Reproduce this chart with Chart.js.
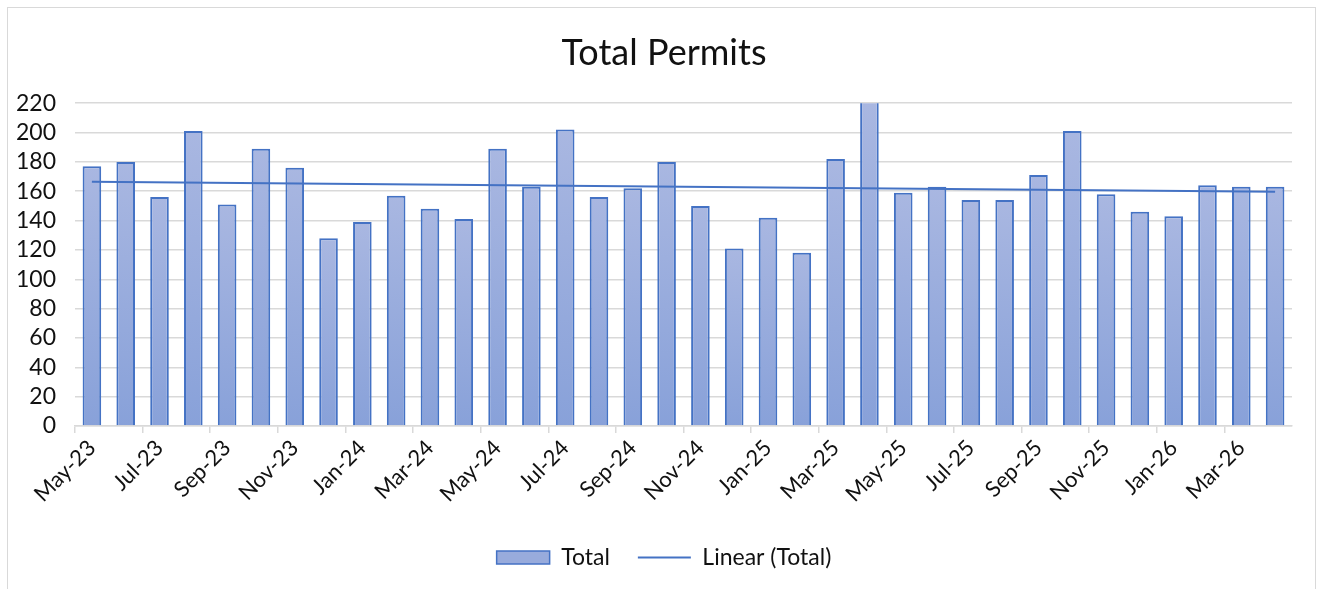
<!DOCTYPE html>
<html><head><meta charset="utf-8">
<script src="https://cdn.jsdelivr.net/npm/chart.js@4.4.1/dist/chart.umd.min.js"></script>
<style>html,body{margin:0;padding:0;background:#fff;}#wrap{width:1323px;height:589px;position:relative;}</style>
</head><body><div id="wrap"><canvas id="c" width="1323" height="589"></canvas></div>
<script>
const categories = ['May-23','Jun-23','Jul-23','Aug-23','Sep-23','Oct-23','Nov-23','Dec-23',
  'Jan-24','Feb-24','Mar-24','Apr-24','May-24','Jun-24','Jul-24','Aug-24','Sep-24','Oct-24','Nov-24','Dec-24',
  'Jan-25','Feb-25','Mar-25','Apr-25','May-25','Jun-25','Jul-25','Aug-25','Sep-25','Oct-25','Nov-25','Dec-25',
  'Jan-26','Feb-26','Mar-26','Apr-26'];
const totals = [177,180,156,201,151,189,176,128,139,157,148,141,189,163,202,156,162,180,150,121,
  142,118,182,226,159,163,154,154,171,201,158,146,143,164,163,163];
const trendEnds = [166.4, 159.6];
const yTicks = [0,20,40,60,80,100,120,140,160,180,200,220];

const trend = categories.map((_, i) => i === 0 ? trendEnds[0] : (i === categories.length - 1 ? trendEnds[1] : null));
const FONT = 'Lato, "Open Sans", sans-serif';

const borderPlugin = {
  id: 'frame',
  beforeDraw(chart) {
    const ctx = chart.ctx;
    ctx.save();
    ctx.fillStyle = '#fff';
    ctx.fillRect(0, 0, chart.width, chart.height);
    ctx.strokeStyle = '#d9d9d9';
    ctx.lineWidth = 1;
    ctx.strokeRect(7.5, 7.5, 1308, 620);
    ctx.restore();
  }
};

function barFill(c) {
  const chart = c.chart;
  const ys = chart.scales && chart.scales.y;
  if (!chart.chartArea || !ys || c.raw == null) return '#98abdc';
  const top = ys.getPixelForValue(Math.min(c.raw, ys.max));
  const bot = ys.getPixelForValue(0);
  const g = chart.ctx.createLinearGradient(0, top, 0, bot);
  g.addColorStop(0, '#a9b7e1');
  g.addColorStop(1, '#88a1d9');
  return g;
}

new Chart(document.getElementById('c'), {
  type: 'bar',
  data: {
    labels: categories,
    datasets: [
      { type: 'bar', label: 'Total', data: totals, backgroundColor: barFill, borderColor: '#4472c4',
        borderWidth: 2, categoryPercentage: 1, barPercentage: 0.55, order: 2 },
      { type: 'line', label: 'Linear (Total)', data: trend, borderColor: '#4472c4', borderWidth: 2,
        pointRadius: 0, spanGaps: true, fill: false, order: 1 }
    ]
  },
  options: {
    responsive: false, animation: false,
    layout: { padding: { left: 5, right: 0, top: 0, bottom: 10 } },
    plugins: {
      title: { display: true, text: 'Total Permits', color: '#111',
        font: { family: FONT, size: 36, weight: 'normal' }, padding: { top: 32, bottom: 28 } },
      legend: { position: 'bottom',
        labels: { color: '#111', font: { family: FONT, size: 23 }, usePointStyle: true,
          pointStyleWidth: 53, boxHeight: 13, padding: 28,
          generateLabels(chart) {
            return [
              { text: 'Total', fillStyle: '#98abdc', strokeStyle: '#4472c4', lineWidth: 1.5, pointStyle: 'rect', datasetIndex: 0, fontColor: '#111' },
              { text: 'Linear (Total)', fillStyle: '#4472c4', strokeStyle: '#4472c4', lineWidth: 2, pointStyle: 'line', datasetIndex: 1, fontColor: '#111' }
            ];
          } } },
      tooltip: { enabled: false }
    },
    scales: {
      x: {
        offset: true,
        grid: { offset: true, drawOnChartArea: false, drawTicks: true, tickLength: 7,
          color: c => (c.index % 2 === 0 ? '#d9d9d9' : 'rgba(0,0,0,0)'), lineWidth: 1.5 },
        border: { display: true, color: '#d9d9d9', width: 1.5 },
        ticks: { autoSkip: false, maxRotation: 45, minRotation: 45, color: '#111', padding: 2,
          font: { family: FONT, size: 22 },
          callback: (v, i) => (i % 2 === 0 ? categories[i] : '') },
        afterFit: s => { s.height = 92; }
      },
      y: {
        min: 0, max: 220,
        afterBuildTicks: s => { s.ticks = yTicks.map(v => ({ value: v })); },
        grid: { color: '#d9d9d9', lineWidth: 1.5, drawTicks: false },
        border: { display: false },
        ticks: { autoSkip: false, color: '#111', padding: 19, font: { family: FONT, size: 23 } },
        afterFit: s => { s.width = 70; }
      },
      yRight: {
        position: 'right', min: 0, max: 220,
        grid: { display: false, drawTicks: false }, border: { display: false },
        ticks: { display: false },
        afterFit: s => { s.width = 31; }
      }
    }
  },
  plugins: [borderPlugin]
});
</script></body></html>
